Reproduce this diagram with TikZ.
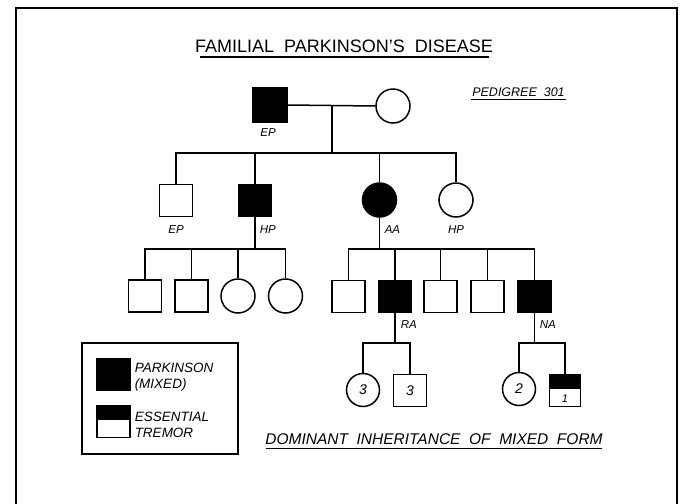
\documentclass[tikz,border=0pt]{standalone}
\usepackage{fontspec}
\setmainfont{Liberation Sans}
\begin{document}
\begin{tikzpicture}[x=1pt,y=-1pt,line width=1.5pt,
  male/.style={draw,rectangle,minimum width=33pt,minimum height=32pt,inner sep=0pt},
  female/.style={draw,circle,minimum size=34pt,inner sep=0pt},
  affected/.style={fill=black},
  tremor/.style={male,path picture={\fill (path picture bounding box.north west)
      rectangle ([yshift=1.5pt]path picture bounding box.east);}},
  tag/.style={font=\fontsize{11.5}{12}\selectfont\itshape,inner sep=0pt},
  count/.style={font=\fontsize{14}{14}\selectfont\itshape},
  keytext/.style={font=\fontsize{13.5}{14}\selectfont\itshape,inner sep=0pt,anchor=base west},
  heading/.style={inner sep=0pt,anchor=base}]
\useasboundingbox (0,0) rectangle (681,504);
% frame, open at the bottom
\draw[line width=1.8pt] (16,504) -- (16,8) -- (677,8) -- (677,504);

% headings
\node[heading,font=\fontsize{18}{18}\selectfont] (title) at (344,52) {FAMILIAL\ \ PARKINSON'S\ \ DISEASE};
\draw[line width=2.6pt] (200,57) -- (489,57);
\node[heading,font=\fontsize{12.5}{13}\selectfont\itshape] (ped) at (518.5,96) {PEDIGREE\ \ 301};
\draw[line width=1.5pt] (471,99.5) -- (566,99.5);
\node[heading,font=\fontsize{15.5}{16}\selectfont\itshape] (mode) at (434,444) {DOMINANT\ \ INHERITANCE\ \ OF\ \ MIXED\ \ FORM};
\draw[line width=1.5pt] (266,448.5) -- (602,448.5);

% generation I
\node[male,affected,minimum width=34pt,minimum height=34pt] (ep1) at (270,105) {};
\node[female] (wife) at (393,106) {};
\node[tag,anchor=base] (lep1) at (268,136) {EP};
\coordinate (m1) at (332,105);
\coordinate (s1) at (332,153);
\draw (ep1.east) -- (wife.west);
\draw (m1) -- (s1);

% generation II
\node[male] (c1) at (176,200.5) {};
\node[male,affected] (c2) at (255,200.5) {};
\node[female,affected] (c3) at (379.5,200) {};
\node[female] (c4) at (456,200) {};
\draw (c1.north) |- (s1) -| (c4.north);
\draw (c2.north) -- (c2.north |- s1);
\draw (c3.north) -- (c3.north |- s1);
\node[tag,anchor=base] (lc1) at (176,233) {EP};
\node[tag,anchor=base west] (lc2) at (259,233) {HP};
\node[tag,anchor=base west] (lc3) at (384,233) {AA};
\node[tag,anchor=base] (lc4) at (456,233) {HP};

% generation III, children of HP
\coordinate (s2) at (255,249);
\draw (c2.south) -- (s2);
\node[male] (h1) at (145,296) {};
\node[male] (h2) at (191.5,296) {};
\node[female] (h3) at (238,296) {};
\node[female] (h4) at (285.5,296) {};
\draw (h1.north) |- (s2) -| (h4.north);
\draw (h2.north) -- (h2.north |- s2);
\draw (h3.north) -- (h3.north |- s2);

% generation III, children of AA
\coordinate (s3) at (379.5,249);
\draw (c3.south) -- (s3);
\node[male] (a1) at (348.5,296.5) {};
\node[male,affected] (a2) at (395,296.5) {};
\node[male] (a3) at (440.5,296.5) {};
\node[male] (a4) at (487.5,296.5) {};
\node[male,affected] (a5) at (534.5,296.5) {};
\draw (a1.north) |- (s3) -| (a5.north);
\foreach \k in {a2,a3,a4} \draw (\k.north) -- (\k.north |- s3);
\node[tag,anchor=base west] (la2) at (400,328) {RA};
\node[tag,anchor=base west] (la5) at (539,328) {NA};

% generation IV
\coordinate (s4) at (395,343);
\coordinate (s5) at (534.5,343);
\draw (a2.south) -- (s4);
\draw (a5.south) -- (s5);
\node[female,count,minimum size=33pt] (r1) at (363,390) {3};
\node[male,count] (r2) at (410,390.5) {3};
\node[female,count,minimum size=33pt] (n1) at (519,389) {2};
\node[tremor,minimum width=31pt] (n2) at (565,390.5) {};
\node[font=\fontsize{11}{11}\selectfont\itshape,inner sep=0pt] (n2c) at (565,398.5) {1};
\draw (r1.north) |- (s4) -| (r2.north);
\draw (n1.north) |- (s5) -| (n2.north);

% key
\draw (82,343) rectangle (238,454);
\node[male,affected] (k1) at (113.5,374.5) {};
\node[tremor] (k2) at (113.5,421.5) {};
\node[keytext] (k1a) at (134,372) {PARKINSON};
\node[keytext] (k1b) at (134,388) {(MIXED)};
\node[keytext] (k2a) at (134,421) {ESSENTIAL};
\node[keytext] (k2b) at (134,437) {TREMOR};
\end{tikzpicture}
\end{document}
